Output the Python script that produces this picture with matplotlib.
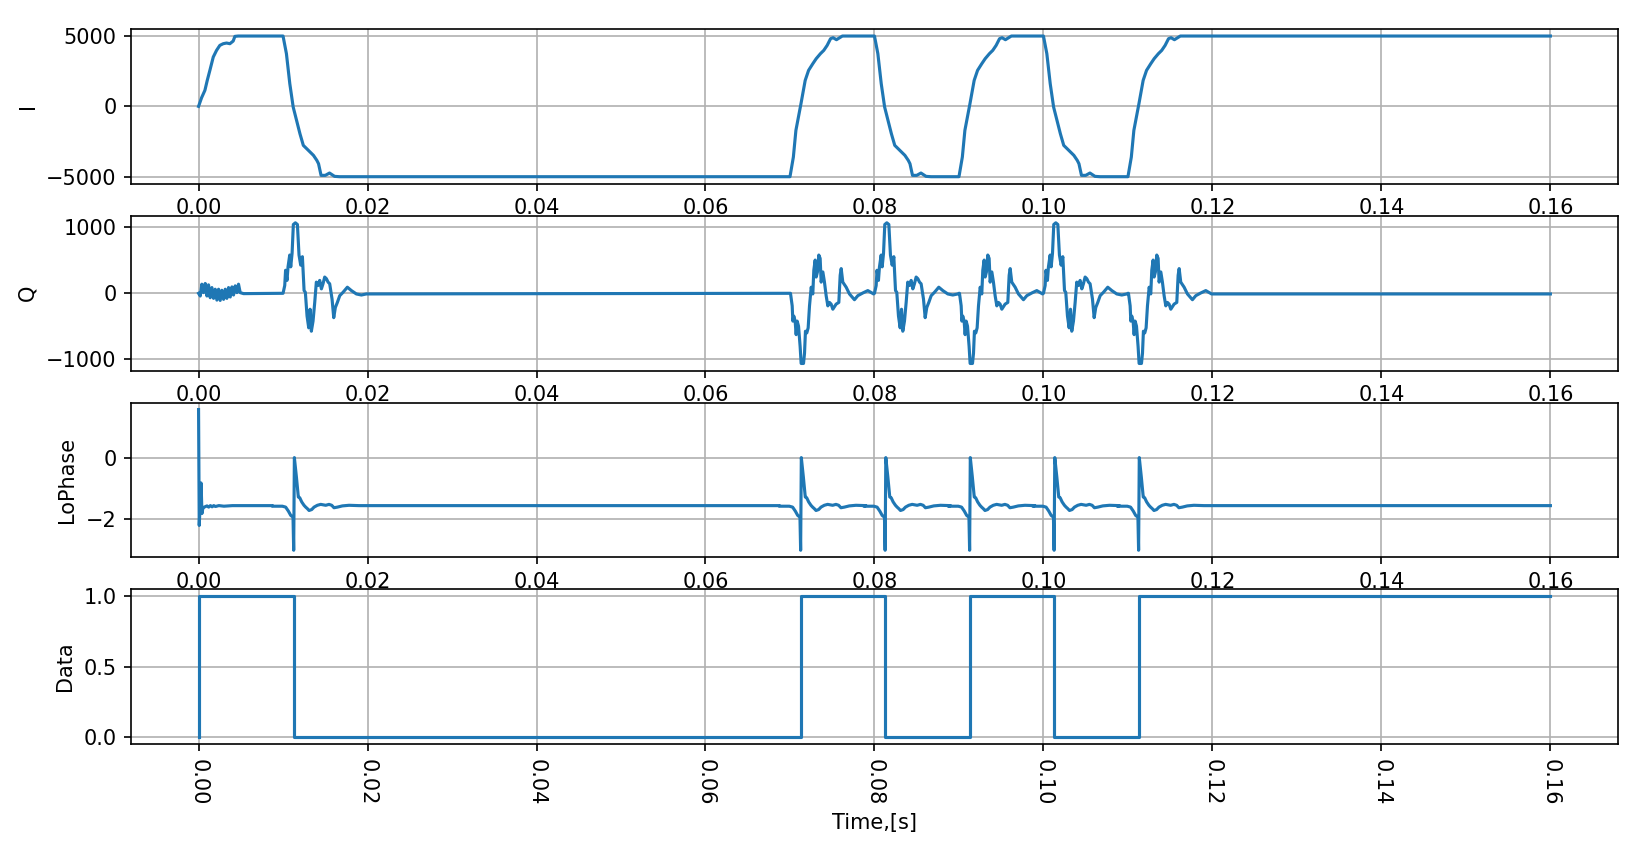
import matplotlib
matplotlib.use("Agg")
import matplotlib.pyplot as plt
import numpy as np

t_end = 0.16

# edge times
i_rise_times = [0.070, 0.090, 0.110]
i_fall_times = [0.010, 0.080, 0.100]
data_edges = [0.0113, 0.0713, 0.0813, 0.0913, 0.1013, 0.1113]

# I: first ramp from 0 at t=0
i_start_t = [0.0, 0.00036, 0.00075, 0.00103, 0.00134, 0.00174, 0.00213, 0.00252,
             0.00292, 0.00331, 0.00371, 0.0041, 0.0043, 0.00469]
i_start_v = [0, 616, 1137, 1848, 2559, 3507, 3981, 4336, 4455, 4502, 4455, 4645,
             4976, 5000]
# I rising edge shape (time after edge)
i_rise_dt = [0.0, 0.0004, 0.0007, 0.0013, 0.0018, 0.0022, 0.0027, 0.0031, 0.0036,
             0.0040, 0.0044, 0.0048, 0.0051, 0.0055, 0.0062]
i_rise_v = [-5000, -3602, -1706, 190, 1848, 2559, 3033, 3389, 3744, 3981, 4336,
            4810, 4882, 4739, 5000]
# I falling edge shape
i_fall_dt = [0.0, 0.0004, 0.0008, 0.0012, 0.0016, 0.0020, 0.0024, 0.0028, 0.0032,
             0.0036, 0.0040, 0.0042, 0.0045, 0.0050, 0.0055, 0.0061, 0.0067]
i_fall_v = [5000, 3744, 1611, -47, -995, -1943, -2773, -3009, -3246, -3483, -3839,
            -4076, -4905, -4905, -4739, -4976, -5000]

# Q: start ripple
q_start_t = [0.0, 0.0002, 0.00039, 0.00059, 0.00079, 0.00099, 0.00118, 0.00138,
             0.00158, 0.00178, 0.00197, 0.00217, 0.00237, 0.00256, 0.00276, 0.00296,
             0.00316, 0.00335, 0.00355, 0.00375, 0.00395, 0.00414, 0.00434, 0.00454,
             0.00473, 0.00493, 0.00533]
q_start_v = [0, -41, 138, 10, 149, -41, 128, -67, 87, -77, 62, -103, 62, -108, 46,
             -92, 62, -77, 87, -56, 97, -26, 113, 10, 138, 10, -5]
# Q burst after an I rise
q_rise_dt = [0.0, 0.00006, 0.00026, 0.00034, 0.00045, 0.00061, 0.00073, 0.00085,
             0.00101, 0.0012, 0.00132, 0.0016, 0.00172, 0.00183, 0.00199, 0.00215,
             0.00231, 0.00251, 0.0027, 0.00282, 0.00298, 0.0031, 0.00325, 0.00341,
             0.00357, 0.00369, 0.00389, 0.00408, 0.00428, 0.00448, 0.00467, 0.00487,
             0.00507, 0.00546, 0.00578, 0.00594, 0.00606, 0.00625, 0.00665, 0.00704,
             0.00763, 0.00803, 0.00862, 0.00921, 0.0099]
q_rise_v = [0, 0, -190, -421, -344, -421, -626, -421, -497, -805, -1062, -1062, -908,
            -574, -600, -523, -190, 92, -10, 349, 503, 246, 323, 579, 528, 169, 323,
            169, -36, -190, -138, -164, -241, -164, -138, 272, 374, 169, 92, -10,
            -97, -36, 5, 41, -10]
# Q burst after an I fall
q_fall_dt = [0.0, 0.0002, 0.0003, 0.00047, 0.00059, 0.00079, 0.00091, 0.00107,
             0.00122, 0.00146, 0.0017, 0.00189, 0.00209, 0.00229, 0.00249, 0.00264,
             0.00284, 0.00304, 0.0032, 0.00335, 0.00355, 0.00375, 0.00394, 0.00414,
             0.00434, 0.00454, 0.00473, 0.00493, 0.00513, 0.00533, 0.00552, 0.0058,
             0.006, 0.00619, 0.00643, 0.00671, 0.0071, 0.00761, 0.00809, 0.00868,
             0.00927, 0.00986]
q_fall_v = [0, 118, 349, 195, 400, 579, 400, 605, 1041, 1067, 1041, 579, 426, 554,
            41, 15, -344, -523, -241, -574, -421, -138, 169, 118, 195, 67, 144, 246,
            221, 169, 144, -87, -369, -215, -138, -36, 15, 92, 41, -10, -26, -10]

# LoPhase
lp_base = -1.571
lp_start_t = [0.0, 0.00008, 0.0003, 0.0004, 0.0005, 0.00067, 0.0010, 0.0012,
              0.0014, 0.0016, 0.0018, 0.0020, 0.0024, 0.0030, 0.0040]
lp_start_v = [1.571, -2.22, -0.83, -1.83, -1.67, -1.62, -1.58, -1.62, -1.57, -1.61,
              -1.57, -1.60, -1.57, -1.59, -1.571]
# shape around each data edge
lp_evt_dt = [-0.00256, -0.00138, -0.00099, -0.00067, -0.00039, -0.00012, -0.00004,
             0.00004, 0.00028, 0.00051, 0.00067, 0.00091, 0.00118, 0.00138, 0.00158,
             0.00178, 0.00209, 0.00237, 0.00276, 0.00316, 0.00375, 0.00414, 0.00446,
             0.00473, 0.00513, 0.00572, 0.00651, 0.00769]
lp_evt_v = [-1.59, -1.59, -1.62, -1.75, -1.89, -1.95, -3.03, 0.0, -0.63, -1.29,
            -1.31, -1.45, -1.56, -1.62, -1.67, -1.73, -1.70, -1.62, -1.56, -1.53,
            -1.56, -1.53, -1.56, -1.64, -1.62, -1.58, -1.56, -1.571]

# Data bits
data_t = [0.0, 0.0001] + data_edges + [t_end]
data_v = [0, 1, 0, 1, 0, 1, 0, 1, 1]


def assemble(start_t, start_v, events, hold=True):
    t = list(start_t)
    v = list(start_v)
    for te, dts, vals in sorted(events, key=lambda e: e[0]):
        if hold:
            t.append(te + dts[0])
            v.append(v[-1])
        t.extend(te + np.array(dts))
        v.extend(vals)
    t.append(t_end)
    v.append(v[-1])
    return np.array(t), np.array(v)


i_events = [(te, i_rise_dt, i_rise_v) for te in i_rise_times] + \
           [(te, i_fall_dt, i_fall_v) for te in i_fall_times]
q_events = [(te, q_rise_dt, q_rise_v) for te in i_rise_times] + \
           [(te, q_fall_dt, q_fall_v) for te in i_fall_times]
lp_events = [(te, lp_evt_dt, lp_evt_v) for te in data_edges]

t_i, I = assemble(i_start_t, i_start_v, i_events)
t_q, Q = assemble(q_start_t, q_start_v, q_events, hold=False)
t_lp, LP = assemble(lp_start_t, lp_start_v, lp_events)

fig = plt.figure(figsize=(10.9, 5.62), dpi=150)

plt.subplot(411)
plt.plot(t_i, I)
plt.ylabel("I")
plt.grid(True)

plt.subplot(412)
plt.plot(t_q, Q)
plt.ylabel("Q")
plt.grid(True)

plt.subplot(413)
plt.plot(t_lp, LP)
plt.ylabel("LoPhase")
plt.grid(True)

plt.subplot(414)
plt.plot(data_t, data_v, drawstyle="steps-post")
plt.ylabel("Data")
plt.xlabel("Time,[s]")
plt.xticks(rotation=-90)
plt.grid(True)

plt.subplots_adjust(left=0.0801, right=0.9896, top=0.9656, bottom=0.1174,
                    hspace=0.207)
plt.savefig("out.png", dpi=150)
